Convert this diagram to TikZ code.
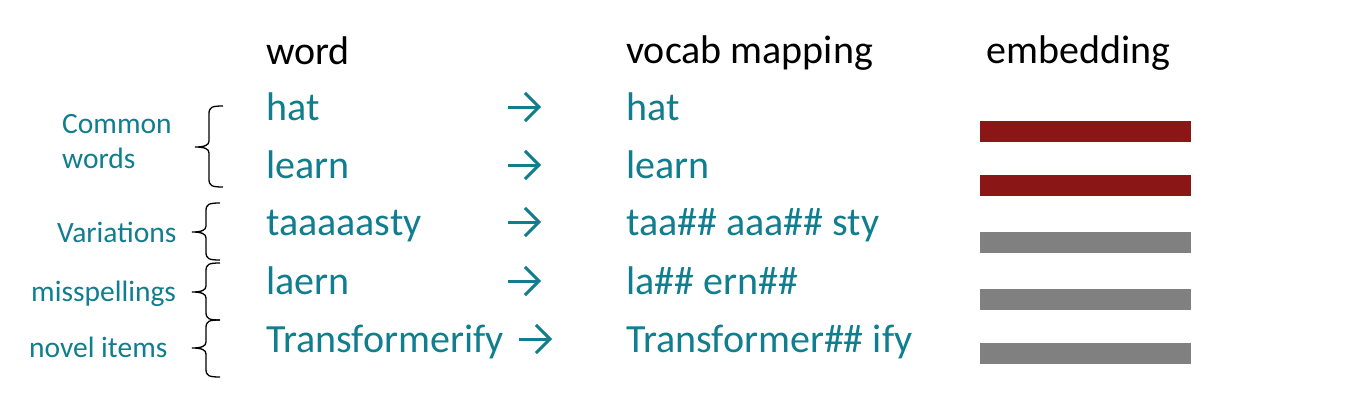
\documentclass[tikz,border=0pt]{standalone}
\usepackage{fontspec}
\setmainfont{Carlito}
\usepackage{xcolor}
\usepackage{tikz}
\usetikzlibrary{arrows.meta}
\definecolor{tokTeal}{HTML}{107E8E}
\definecolor{tokRed}{HTML}{8B1616}
\definecolor{tokGray}{HTML}{808080}
% left brace: right x, top y, tip y, bottom y
\newcommand{\grpbrace}[4]{%
  \draw[brc] (#1,#2) .. controls (#1-11,#2) and (#1-14,#2+1) .. (#1-14,#2+8)
    -- (#1-14,#3-6) .. controls (#1-14,#3-2) and (#1-18,#3) .. (#1-28,#3)
    .. controls (#1-18,#3) and (#1-14,#3+2) .. (#1-14,#3+6)
    -- (#1-14,#4-8) .. controls (#1-14,#4-1) and (#1-11,#4) .. (#1,#4);}

\begin{document}
\begin{tikzpicture}[x=1pt, y=-1pt,
  head/.style={anchor=base west, inner sep=0pt, font=\fontsize{40}{48}\selectfont, text=black},
  tok/.style={head, text=tokTeal},
  grp/.style={anchor=base west, inner sep=0pt, font=\fontsize{29.5}{35}\selectfont, text=tokTeal, align=left},
  arr/.style={draw=tokTeal, line width=3pt, -{Straight Barb[length=14pt, width=28pt]}},
  brc/.style={draw=black, line width=1.3pt},
  emb/.style={minimum width=211pt, minimum height=20.5pt, inner sep=0pt, anchor=north west}]
  \useasboundingbox (0,0) rectangle (1352,415);
  \node[head] (hword) at (266,64) {word};
  \node[head] (hvocab) at (626,63) {vocab mapping};
  \node[head] (hemb) at (986,63) {embedding};
  \node[tok] (w1) at (266,120) {hat};
  \node[tok] (w2) at (266,178) {learn};
  \node[tok] (w3) at (266,235) {taaaaasty};
  \node[tok] (w4) at (266,294) {laern};
  \node[tok] (w5) at (266,352) {Transformerify};
  \node[tok] (v1) at (626,120) {hat};
  \node[tok] (v2) at (626,178) {learn};
  \node[tok] (v3) at (626,235) {taa\#\# aaa\#\# sty};
  \node[tok] (v4) at (626,294) {la\#\# ern\#\#};
  \node[tok] (v5) at (626,352) {Transformer\#\# ify};
  \coordinate (a1) at (508,107); \coordinate (b1) at (541,107);
  \coordinate (a2) at (508,165); \coordinate (b2) at (541,165);
  \coordinate (a3) at (508,222); \coordinate (b3) at (541,222);
  \coordinate (a4) at (508,281); \coordinate (b4) at (541,281);
  \coordinate (a5) at (519,339); \coordinate (b5) at (552,339);
  \draw[arr] (a1) -- (b1);
  \draw[arr] (a2) -- (b2);
  \draw[arr] (a3) -- (b3);
  \draw[arr] (a4) -- (b4);
  \draw[arr] (a5) -- (b5);
  \node[emb, fill=tokRed] (e1) at (980,121) {};
  \node[emb, fill=tokRed] (e2) at (980,175) {};
  \node[emb, fill=tokGray] (e3) at (980,232) {};
  \node[emb, fill=tokGray] (e4) at (980,289) {};
  \node[emb, fill=tokGray] (e5) at (980,343) {};
  \node[grp] (g1) at (62,133) {Common};
  \node[grp] (g1b) at (62,168) {words};
  \node[grp] (g2) at (57,242) {Variations};
  \node[grp] (g3) at (31,301) {misspellings};
  \node[grp] (g4) at (29,357) {novel items};
  \grpbrace{223}{106}{147}{187}
  \grpbrace{220}{203}{232}{260}
  \grpbrace{220}{263}{292}{320}
  \grpbrace{220}{320}{348}{377}
\end{tikzpicture}
\end{document}
